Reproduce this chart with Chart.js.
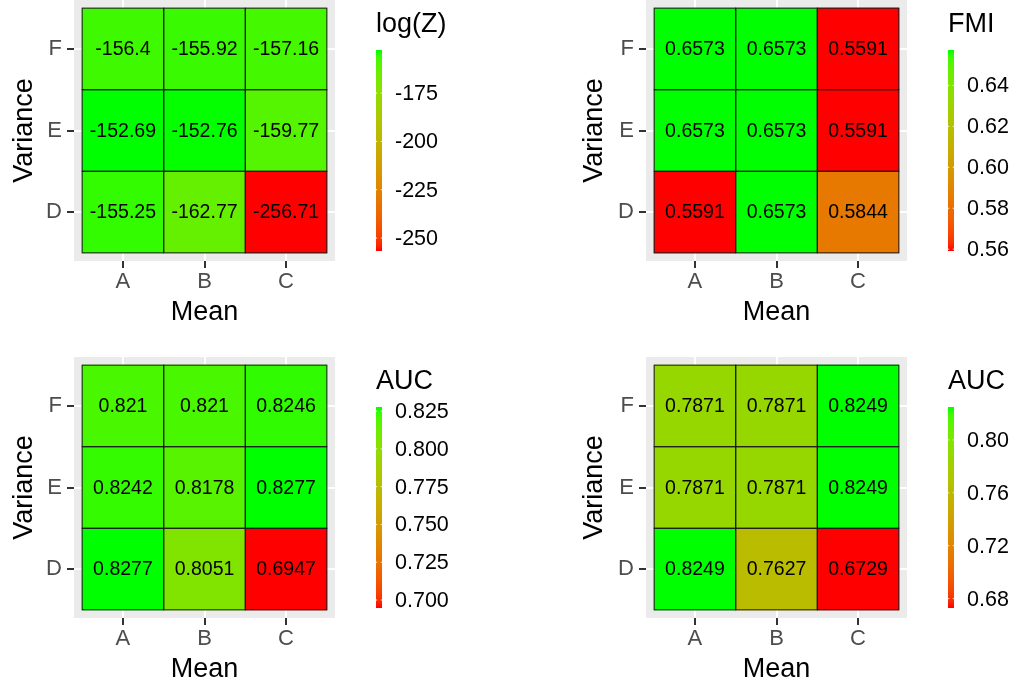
<!DOCTYPE html>
<html>
<head>
<meta charset="utf-8">
<script src="https://cdn.jsdelivr.net/npm/chart.js@4.4.1/dist/chart.umd.min.js"></script>
<style>
  html, body { margin: 0; padding: 0; background: #fff; }
  #wrap { position: relative; width: 1020px; height: 686px; }
  .box { position: absolute; }
</style>
</head>
<body>
<div id="wrap">
  <div class="box" style="left:0;top:0;width:570px;height:343px"><canvas id="c1"></canvas></div>
  <div class="box" style="left:570px;top:0;width:450px;height:343px"><canvas id="c2"></canvas></div>
  <div class="box" style="left:0;top:343px;width:570px;height:343px"><canvas id="c3"></canvas></div>
  <div class="box" style="left:570px;top:343px;width:450px;height:343px"><canvas id="c4"></canvas></div>
</div>
<script>
const FONT = '"Liberation Sans", Arial, Helvetica, sans-serif';

// categories
const meanLabels = ['A', 'B', 'C'];
const varianceLabels = ['D', 'E', 'F'];

// values, one row per variance level (D, E, F), columns A, B, C
const logZ = [
    [-155.25, -162.77, -256.71],
    [-152.69, -152.76, -159.77],
    [-156.4, -155.92, -157.16]
];
const fmi = [
    [0.5591, 0.6573, 0.5844],
    [0.6573, 0.6573, 0.5591],
    [0.6573, 0.6573, 0.5591]
];
const aucLeft = [
    [0.8277, 0.8051, 0.6947],
    [0.8242, 0.8178, 0.8277],
    [0.821, 0.821, 0.8246]
];
const aucRight = [
    [0.8249, 0.7627, 0.6729],
    [0.7871, 0.7871, 0.8249],
    [0.7871, 0.7871, 0.8249]
];

// colour bar tick labels
const logZTicks = [-250, -225, -200, -175];
const fmiTicks = [0.56, 0.58, 0.60, 0.62, 0.64];
const aucLeftTicks = [0.700, 0.725, 0.750, 0.775, 0.800, 0.825];
const aucRightTicks = [0.68, 0.72, 0.76, 0.80];

// red -> green ramp interpolated in CIELAB, like scale_fill_gradient
const lin = c => (c <= 0.04045 ? c / 12.92 : Math.pow((c + 0.055) / 1.055, 2.4));
const gam = c => (c <= 0.0031308 ? 12.92 * c : 1.055 * Math.pow(c, 1 / 2.4) - 0.055);
const WHITE = [0.95047, 1, 1.08883];

function rgbToLab(rgb) {
    const [r, g, b] = rgb.map(v => lin(v / 255));
    const xyz = [
        0.4124564 * r + 0.3575761 * g + 0.1804375 * b,
        0.2126729 * r + 0.7151522 * g + 0.0721750 * b,
        0.0193339 * r + 0.1191920 * g + 0.9503041 * b
    ];
    const f = t => (t > 216 / 24389 ? Math.cbrt(t) : (24389 / 27 * t + 16) / 116);
    const [fx, fy, fz] = xyz.map((v, i) => f(v / WHITE[i]));
    return [116 * fy - 16, 500 * (fx - fy), 200 * (fy - fz)];
}

function labToRgb(lab) {
    const fy = (lab[0] + 16) / 116, fx = fy + lab[1] / 500, fz = fy - lab[2] / 200;
    const inv = t => (t * t * t > 216 / 24389 ? t * t * t : (116 * t - 16) / (24389 / 27));
    const [x, y, z] = [fx, fy, fz].map((v, i) => inv(v) * WHITE[i]);
    const r = 3.2404542 * x - 1.5371385 * y - 0.4985314 * z;
    const g = -0.9692660 * x + 1.8760108 * y + 0.0415560 * z;
    const b = 0.0556434 * x - 0.2040259 * y + 1.0572252 * z;
    return [r, g, b].map(v => Math.round(Math.min(1, Math.max(0, gam(v))) * 255));
}

const LOW = rgbToLab([255, 0, 0]);
const HIGH = rgbToLab([0, 255, 0]);

function ramp(t) {
    const lab = LOW.map((v, i) => v + (HIGH[i] - v) * t);
    const [r, g, b] = labToRgb(lab);
    return `rgb(${r},${g},${b})`;
}

const heatPlugin = {
    id: 'heat',
    beforeDraw(chart) {
        const {ctx, chartArea: a} = chart;
        ctx.save();
        ctx.fillStyle = '#EBEBEB';
        ctx.fillRect(a.left, a.top, a.width, a.height);
        ctx.restore();
    },
    afterDatasetsDraw(chart) {
        const ctx = chart.ctx;
        const meta = chart.getDatasetMeta(0);
        const ds = chart.data.datasets[0];
        ctx.save();
        ctx.strokeStyle = '#1a1a1a';
        ctx.lineWidth = 1;
        meta.data.forEach(bar => {
            const p = bar.getProps(['x', 'y', 'base', 'width'], true);
            ctx.strokeRect(p.x - p.width / 2, Math.min(p.y, p.base), p.width, Math.abs(p.y - p.base));
        });
        ctx.fillStyle = '#000';
        ctx.font = '19.5px ' + FONT;
        ctx.textAlign = 'center';
        ctx.textBaseline = 'middle';
        meta.data.forEach((bar, i) => {
            const c = bar.getCenterPoint();
            ctx.fillText(String(ds.data[i].v), c.x, c.y + 1);
        });
        ctx.restore();
    },
    afterDraw(chart, args, opts) {
        const {ctx, chartArea: a} = chart;
        const flat = opts.values.flat();
        const vmin = Math.min(...flat), vmax = Math.max(...flat);
        const bx = a.right + 41, by = a.top + 50, bw = 6, bh = 201;

        ctx.save();
        const grad = ctx.createLinearGradient(0, by + bh, 0, by);
        for (let k = 0; k <= 30; k++) {
            grad.addColorStop(k / 30, ramp(k / 30));
        }
        ctx.fillStyle = grad;
        ctx.fillRect(bx, by, bw, bh);

        ctx.font = '21.5px ' + FONT;
        ctx.textAlign = 'left';
        ctx.textBaseline = 'middle';
        opts.ticks.forEach(t => {
            const y = by + bh - (t - vmin) / (vmax - vmin) * bh;
            ctx.fillStyle = 'rgba(255,255,255,0.8)';
            ctx.fillRect(bx, y - 0.5, 1.3, 1);
            ctx.fillRect(bx + bw - 1.3, y - 0.5, 1.3, 1);
            ctx.fillStyle = '#000';
            ctx.fillText(t.toFixed(opts.digits), bx + 19, y + 1);
        });

        ctx.font = '27px ' + FONT;
        ctx.fillStyle = '#000';
        ctx.fillText(opts.title, bx, a.top + 25);
        ctx.restore();
    }
};

function makeHeatmap(id, values, title, ticks, digits, yAxisWidth, padding) {
    const flat = values.flat();
    const vmin = Math.min(...flat), vmax = Math.max(...flat);
    const cells = [];
    values.forEach((row, r) => {
        row.forEach((v, c) => {
            cells.push({x: c + 1, y: [r + 0.5, r + 1.5], v: v});
        });
    });
    const fixTicks = scale => {
        scale.ticks = [1, 2, 3].map(v => ({value: v}));
    };
    const gridOpts = {offset: false, color: '#fff', lineWidth: 2, tickLength: 7, tickWidth: 2, tickColor: '#333'};

    return new Chart(document.getElementById(id), {
        type: 'bar',
        data: {
            datasets: [{
                data: cells,
                backgroundColor: cells.map(d => ramp((d.v - vmin) / (vmax - vmin))),
                borderWidth: 0,
                barPercentage: 1,
                categoryPercentage: 1
            }]
        },
        options: {
            responsive: true,
            maintainAspectRatio: false,
            animation: false,
            layout: {padding: padding},
            plugins: {
                legend: {display: false},
                tooltip: {enabled: false},
                heat: {values: values, title: title, ticks: ticks, digits: digits}
            },
            scales: {
                x: {
                    type: 'linear',
                    offset: false,
                    min: 0.4,
                    max: 3.6,
                    afterBuildTicks: fixTicks,
                    afterFit: scale => {
                        scale.height = 68;
                        scale.paddingLeft = 0;
                        scale.paddingRight = 0;
                    },
                    border: {display: false},
                    grid: gridOpts,
                    ticks: {
                        color: '#4D4D4D',
                        padding: 1,
                        font: {size: 22, family: FONT},
                        callback: v => meanLabels[Math.round(v) - 1]
                    },
                    title: {display: true, text: 'Mean', color: '#000', padding: {top: 0, bottom: 0}, font: {size: 27, family: FONT}}
                },
                y: {
                    type: 'linear',
                    offset: false,
                    min: 0.4,
                    max: 3.6,
                    afterBuildTicks: fixTicks,
                    afterFit: scale => {
                        scale.width = yAxisWidth;
                        scale.paddingTop = 0;
                        scale.paddingBottom = 0;
                    },
                    border: {display: false},
                    grid: gridOpts,
                    ticks: {
                        color: '#4D4D4D',
                        padding: 5,
                        font: {size: 22, family: FONT},
                        callback: v => varianceLabels[Math.round(v) - 1]
                    },
                    title: {display: true, text: 'Variance', color: '#000', padding: {top: 8, bottom: 0}, font: {size: 27, family: FONT}}
                }
            }
        },
        plugins: [heatPlugin]
    });
}

makeHeatmap('c1', logZ, 'log(Z)', logZTicks, 0, 74, {top: 0, right: 235, bottom: 14, left: 0});
makeHeatmap('c2', fmi, 'FMI', fmiTicks, 2, 76, {top: 0, right: 113, bottom: 14, left: 0});
makeHeatmap('c3', aucLeft, 'AUC', aucLeftTicks, 3, 74, {top: 14, right: 235, bottom: 0, left: 0});
makeHeatmap('c4', aucRight, 'AUC', aucRightTicks, 2, 76, {top: 14, right: 113, bottom: 0, left: 0});
</script>
</body>
</html>
